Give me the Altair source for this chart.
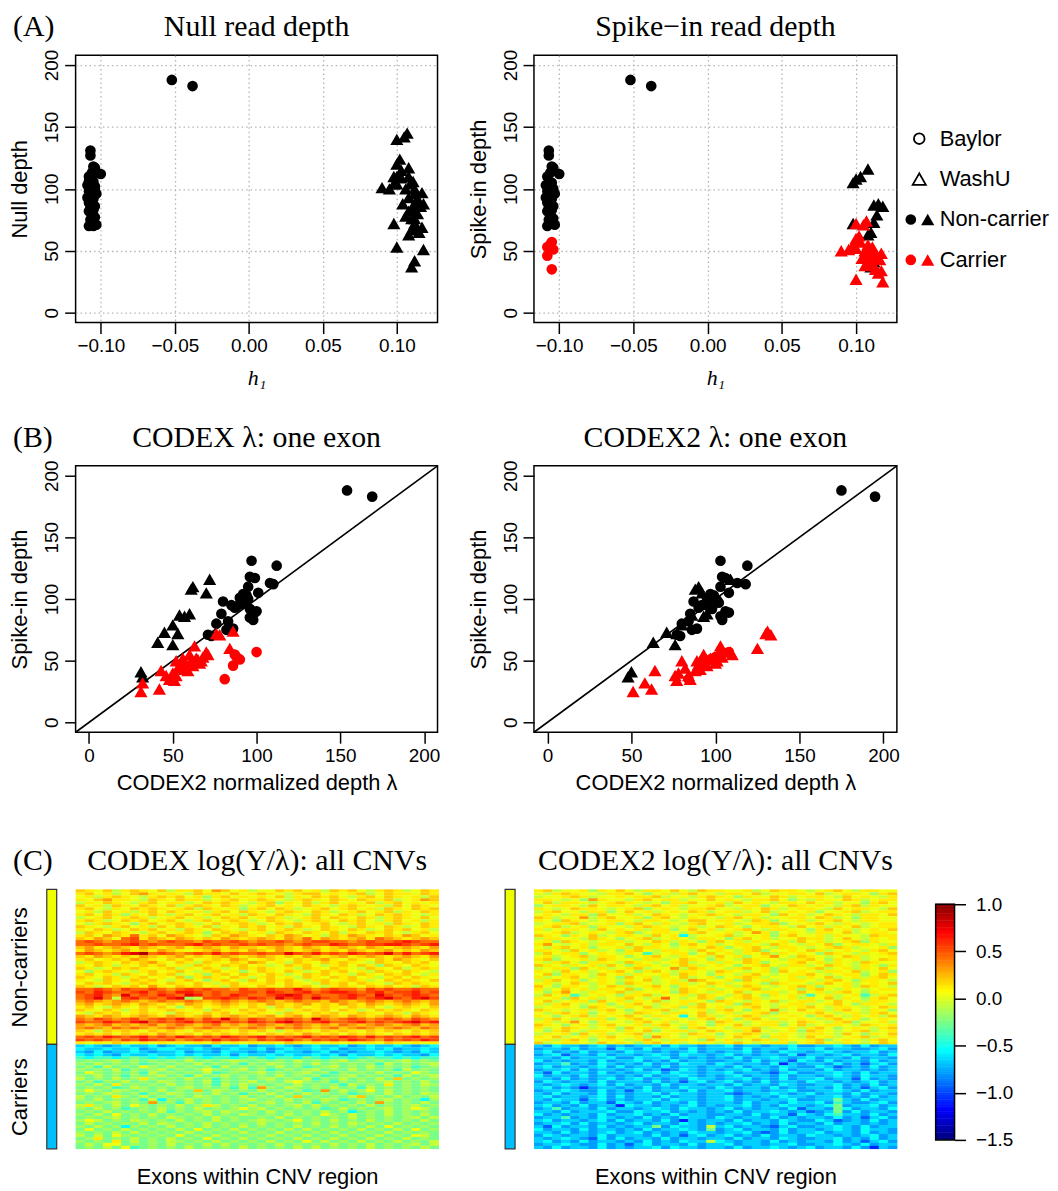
import altair as alt
import pandas as pd

SANS = "Liberation Sans"
SERIF = "Liberation Serif"

# ---------------- text ----------------
panel_labels = ["(A)", "(B)", "(C)"]
titles_A = ["Null read depth", "Spike\u2212in read depth"]
titles_B = ["CODEX \u03bb: one exon", "CODEX2 \u03bb: one exon"]
titles_C = ["CODEX log(Y/\u03bb): all CNVs", "CODEX2 log(Y/\u03bb): all CNVs"]
sites = ["Baylor", "WashU"]
statuses = ["Non-carrier", "Carrier"]

# ---------------- samples ----------------
# Baylor non-carriers (circles, black)
bn_h1 = [-0.107, -0.107, -0.100, -0.105, -0.104, -0.106, -0.108, -0.105, -0.107, -0.109,
         -0.106, -0.104, -0.108, -0.107, -0.103, -0.106, -0.109, -0.105, -0.107, -0.108,
         -0.106, -0.104, -0.107, -0.105, -0.108, -0.106, -0.104, -0.107, -0.103, -0.108,
         -0.106, -0.105, -0.052, -0.038]
bn_null = [131, 127, 112, 118, 117, 113, 110, 106, 104, 103, 101, 100, 98, 97, 96, 95, 93, 92, 90, 89,
           88, 86, 85, 83, 82, 80, 77, 75, 71, 70, 94, 99, 188, 183]
bn_spike = [131, 127, 112, 118, 117, 113, 110, 105, 104, 103, 101, 100, 98, 97, 96, 95, 93, 92, 90, 89,
            88, 86, 85, 83, 82, 80, 76, 75, 71, 70, 94, 99, 188, 183]
bn_codex = [97, 112, 110, 96, 99, 108, 95, 101, 92, 94, 90, 95, 80, 93, 91, 85, 87, 96, 100, 99,
            79, 97, 96, 98, 83, 76, 86, 82, 71, 73, 88, 91, 154, 169]
bn_codex2 = [103, 119, 118, 104, 106, 113, 103, 108, 97, 99, 95, 100, 87, 102, 94, 92, 90, 98, 106, 108,
             85, 103, 104, 104, 84, 80, 89, 86, 77, 79, 96, 101, 175, 195]

# Baylor carriers (circles, red)
bc_h1 = [-0.108, -0.105, -0.104, -0.108, -0.105, -0.106]
bc_null = [106, 114, 102, 92, 70, 110]
bc_spike = [53, 57, 51, 46, 35, 55]
bc_codex = [88, 100, 90, 86, 81, 87]
bc_codex2 = [100, 108, 97, 91, 84, 103]

# WashU non-carriers (triangles, black)
wn_h1 = [0.112, 0.110, 0.110, 0.112, 0.108, 0.114, 0.098, 0.112, 0.118, 0.115, 0.100, 0.103, 0.098, 0.108]
wn_null = [42, 37, 67, 72, 63, 80, 72, 88, 88, 87, 110, 109, 104, 117]
wn_spike = [41, 37, 65, 73, 63, 79, 72, 87, 86, 88, 108, 110, 105, 116]
wn_codex = [31, 32, 41, 45, 50, 50, 53, 54, 57, 60, 61, 62, 70, 72]
wn_codex2 = [50, 48, 63, 71, 76, 80, 77, 86, 93, 95, 88, 90, 92, 109]

# WashU carriers (triangles, red)
wc_h1 = [0.118, 0.100, 0.115, 0.112, 0.108, 0.113, 0.110, 0.117, 0.106, 0.104,
         0.112, 0.100, 0.116, 0.108, 0.110, 0.098, 0.112, 0.114, 0.102, 0.109,
         0.117, 0.106, 0.111, 0.103, 0.108, 0.100, 0.105, 0.100, 0.107, 0.090, 0.095]
wc_null = [51, 53, 65, 76, 82, 70, 76, 69, 78, 88, 96, 104, 86, 93, 84, 110, 100, 92, 124, 104,
           97, 100, 106, 115, 110, 140, 142, 120, 145, 101, 100]
wc_spike = [25, 27, 32, 38, 42, 35, 40, 34, 38, 44, 48, 52, 43, 47, 42, 55, 50, 46, 62, 52,
            48, 50, 53, 57, 55, 72, 71, 60, 74, 50, 51]
wc_codex = [31, 42, 32, 46, 43, 48, 50, 51, 52, 53, 55, 56, 57, 58, 59, 60, 61, 62, 63, 64,
            66, 67, 68, 70, 71, 76, 78, 84, 86, 52, 65]
wc_codex2 = [51, 62, 58, 76, 64, 85, 78, 77, 84, 82, 94, 92, 91, 90, 88, 93, 89, 95, 103, 97,
             100, 101, 104, 109, 110, 130, 133, 125, 131, 80, 100]

diag_ends = [-8, 208]

# ---------------- heatmap cells (codes read per cell) ----------------
code_chars = list("0123456789ABCDEFGHI")
code_values = [-1.3, -1.1, -0.95, -0.8, -0.68, -0.55, -0.4, -0.27, -0.17, -0.08,
               0.02, 0.11, 0.19, 0.3, 0.42, 0.52, 0.62, 0.75, 0.9]

codex_rows = [
    "CBAC9BCBAC" "9BBCADCAB9" "AACBCAB9CB" "CA9BCB9ACB",
    "BCAB9ACDBA" "BA9CBBACAB" "CBA9BCCABA" "BC9ACBBACB",
    "AB9BCBA9BC" "BCAB8BCABA" "BAC9BACBCA" "9BCACBAB9C",
    "BACDBBA9CB" "ACBB9ABCAB" "CBA9BCBACB" "ACBBC9ABDC",
    "9BACBA9BCA" "BB9ACBCBA9" "BC8BAC9BCA" "BAC9BCABAB",
    "CAB9CBACBA" "C9BCBACB9A" "BCABACBA9B" "CBAB9CACBA",
    "BCA9BACBCB" "ABC9CBAB8B" "CACB9ABCAB" "CAB9CBACBC",
    "AB9CAB9BCA" "CBAB9BCACB" "A9BCBACB9A" "BCABC9BACB",
    "BCACB8BACB" "9BCABCAB9C" "BACBA9CBAC" "B9ACBCBA9B",
    "9ABCABCB9A" "BCAB9ACBCA" "BCB9ABCACB" "ACB9BCBACA",
    "BCB9ACBCAB" "CA9BCABCB9" "ACBA9BCBAC" "BCA9BCAB9B",
    "A9BCBA8BCA" "BCB9ACABCB" "9ACBCABCA9" "BCAB9CBACB",
    "CBA9BCAB9C" "ACBAC9BACB" "CAB9CBACBA" "9CBACB9ACB",
    "BACB9ACBCA" "B9CBACBA9B" "CABCB9ACBA" "CB9ACBCAB9",
    "9CBACBA9BC" "ABCB8ACBCA" "B9CBACBAC9" "BACBCA9BCA",
    "BCADCBEBCA" "DCBA9CBDCB" "ACBDCAB9CB" "DCBACBDCAB",
    "CBDCAEFBDC" "BDCBCBDCBC" "DCBDCEBDCB" "CDBEDCBCDC",
    "EFEDEEFEDE" "FEEDFEEFED" "EEFEDEFFEE" "DEFEEFGFEE",
    "EEFEEFGEFE" "EEFGEFEEFE" "FEEDEFEEGF" "EEFFGGFEFG",
    "CDBCDCBDCB" "CDBCDCBDCC" "BCDCBDCBCD" "CBDCBCDCBD",
    "BDCBCDBCBD" "CBABCDBCBD" "CBDCBCDBCB" "DCBCDBCBDC",
    "EFEDEGHIEF" "EDEFEGEFEE" "FEEHFEGEFE" "GFEFHEGEFG",
    "CBDCBCBDCB" "CDBCBCDCBC" "DCBCBDCBCD" "BCDCBCDCBD",
    "BCABCBDCBA" "CBCABCBDCA" "BCBACBCDBA" "CBACBDCBAC",
    "9BCBACBCDB" "ACB9CBACBD" "CAB9CBACBC" "BA9CBACBCA",
    "BACB9BACBC" "AB9CBACBCA" "B9ACBCA9BC" "ACB8CBACBA",
    "CB9ACBCBAB" "C9BACB9ACB" "CBAB9CBACB" "A9CBAC9BCB",
    "A8BCBA9BCA" "BCA9BCAB8A" "CBACB9ACBC" "AB9CBACBA9",
    "BCAB9CBACB" "C9AB8BCACB" "ACB9ACBCAB" "9CBACBCA9B",
    "CBACB9BCAB" "AC8BCBACB9" "BCAB9CBACB" "CAB9BCACBA",
    "BA9CBACBCA" "9BCA8BCA9C" "ACBCA9BCAB" "CB9ACBCBAC",
    "ACBCA9BCBA" "CBACB9BCAB" "BCACBA9CBC" "ACBA9CBCBA",
    "CB9ACBCADB" "ACBCAB9CBA" "CBACBCA9BC" "BACBCAB9CB",
    "EEFEDFEEFE" "DEFEFEEDFE" "EFEEGEDEFE" "EDFEFEEFEE",
    "FEGFEEFGEF" "EGGFEFEEFF" "EGFEFGEFGG" "FEFGEFFGEF",
    "EFGEDHEFEG" "FEHGEFEGFE" "EFGHGEFEEF" "GFEHFEFGFE",
    "EFHE9FGEFE" "GH89FFGFEG" "FEHFGEHFEF" "GEFGHFEGHF",
    "DEDCDEDCDE" "DDEDCDEDCD" "EDCDEDDCED" "CDEDCDEDCD",
    "CDBCDCBDCB" "CBDCBCDCBC" "BDCBCDBCBD" "CBDCBCDCBD",
    "BCA9CBACBC" "A8BCABCBAC" "B9CBCABCBA" "CBCA9BCBAC",
    "CBACB9BCAB" "CBAB9CBACB" "CAB9BCBCAC" "B9ACBCBACB",
    "A9CBCABCBA" "9CBACBCABC" "BA9CBACBCA" "BCBACB9CBA",
    "DCBDCBCDCB" "DCBCDBCDCB" "CDBCDBCDCB" "DCBCDCBDCB",
    "EDFEDEFDEF" "EGEDFEHEDF" "EDEFEDHEDE" "FEDEFEDFED",
    "FEEGFEGHEF" "EFGEFGEFEG" "FEGHFEFGEE" "FGEFEFGHFG",
    "DCDECDCDEC" "DEDCDECDCD" "EDCDEDCDCE" "DCDEDCDECD",
    "DEDCEDEDCD" "EDCDEDDCDE" "DCEDEDCDEC" "DEDCDEDCED",
    "CB9CBCBACB" "CBACBCBACB" "CA9BCBACBC" "BACBCBACBC",
    "BCBCACBCBD" "CBCACBCBCB" "ACBCBDCBCA" "CBCBACBCBC",
    "EFEGFEFGEF" "EGFEFEGFEF" "GEFEFGEFEG" "FEGEFEFGEF",
    "FEFEDFEGFE" "FDEFEGEFED" "FEFGEDFEFE" "GFEDFEFEGF",
    "BABACBABAB" "ABABACABAB" "ABACBABABA" "BABACBABAB",
    # carriers
    "4543454453" "4544354453" "4454345445" "3454454345",
    "5445445345" "5445434544" "5345445453" "4454534454",
    "4353445434" "4534435443" "4354434534" "3445434354",
    "5454354454" "4545445354" "4545445453" "5445454435",
    "6566567656" "5676566567" "6566576566" "5676656566",
    "7878978787" "8797878987" "8787978789" "7878789787",
    "8797878678" "7879787868" "7987879787" "8786978789",
    "7869787A87" "9787869787" "8797867897" "8797878678",
    "8787968789" "7878A87897" "8678789787" "9787869787",
    "7A87878697" "8787967878" "9787897868" "7879787A87",
    "8797868789" "7869789787" "8797878678" "9787869789",
    "9787978B87" "8797868787" "8978796879" "78797C7878",
    "7868797879" "8787968789" "7879A87868" "7878978797",
    "8797B78787" "9787869797" "8787978786" "9787B78798",
    "7878679878" "7897878696" "D879878797" "8697878787",
    "8A87987879" "787C798787" "9787867D79" "78A7978787",
    "7879878687" "9878797868" "7978797878" "6787978798",
    "9787B87978" "7879878797" "8797C78787" "9C78797879",
    "8797878695" "8797878789" "7879787986" "7878978758",
    "78789787D7" "8697878787" "8978796878" "797D878797",
    "9B8797A878" "7978B97879" "7878979787" "8797878978",
    "8797867879" "78797878A8" "9787878679" "7878978A97",
    "7879787879" "6878979878" "7978787978" "5787978787",
    "8797A78797" "8787978798" "7879787A87" "9787978797",
    "7878978787" "9878797877" "8797878787" "9787878979",
    "8A97879878" "7978797878" "9878A78797" "8797878797",
    "7978787979" "8787978787" "9787879787" "9878797878",
    "8797858787" "9787978797" "8787978797" "8797A78787",
    "7A78797878" "797A787978" "7879797878" "7978797A78",
    "8787979787" "8797878797" "8797878797" "8787978787",
    "9797A87878" "7A78797878" "7978797879" "7879787A97",
    "78B7879787" "9787A78797" "8787978797" "8797879787",
    "8787B79787" "9878797878" "79787A7978" "7978797879",
    "797AA78787" "9787979787" "8797878797" "8797878979",
    "78797A6787" "8797878797" "8787979787" "8797878797",
]

codex2_rows = [
    "BC9AAB8BAC" "A9BBACA9CB" "BAAB9ACBBA" "9ABCA9BBAA",
    "A9BCBAA9BB" "CA8AB9BCAA" "9BBAC9AABB" "AC9ABBA8BC",
    "9AABCB9AAB" "ABBC9AA9BC" "BA8BAACB9A" "BBA9CABA9B",
    "BBA9A8DBAA" "9BCABB9AAC" "ABA9BBCA8A" "9BAACB9ABB",
    "AC9BBA9ABC" "BA9A8BBCAA" "B9CABA9BBA" "CAB9AA8BCA",
    "8ABBA9CABB" "A9BCAB9AAB" "C9ABB8AACB" "ABA9BC9BAA",
    "BA9ACBBA9A" "BC8ABA9BBC" "AA9BACB9AB" "BA9CABBA9C",
    "9BCAA9BB8A" "CAB9ABACB9" "ABB9AC9ABA" "B8AABC9ABB",
    "ABA9BB8CAA" "B9ACBA9ABC" "BA9BBA8CAB" "9ACBA9BBAC",
    "CB9AAD9BCA" "AB8BCA9BAA" "9BCAB9AABB" "ACB9A8BBAA",
    "BA8CBA9ABB" "A9BBA9ACCA" "BBA9CB8AAB" "9ABCA9BBAA",
    "9ABBC9AAB8" "BCA9BA9BCA" "AB9ABBC8AA" "BCA9BA9ABB",
    "ABC9AB8BAA" "9BCBA9AB9A" "CBA8ABBA9C" "AB9BAC9ABB",
    "B9ABBA9CAB" "AB9BB8ACAB" "9ABCA9BBAA" "8BCAB9ABAC",
    "AABC9ABA9B" "C8ABBA9BCA" "AB9ADB8ABA" "9BBAC9ABBA",
    "CBA8BAC9AB" "BA9CAB59AA" "BC9AAB8BCA" "AB9BAA9CBB",
    "9BBAA9CBA8" "ABC9ABA9BB" "A8BCAB9AAC" "BB9ACA9BAB",
    "AB8CBA9ABB" "9AACB9BA8B" "CAB9BAAB9C" "AB9ABC8BAA",
    "BDA9AB9BBA" "CA9BA8BCAB" "9ABBA9CBA9" "BAC8ABBA9B",
    "A9BCAB8AAB" "9CBBA9ABAC" "B8ABCA9BBA" "9ABCB9AAB8",
    "BBA9CAB9A8" "BCA9BBA9CA" "BA9BC8AABA" "CB9ABA9BCA",
    "9CABB8ABA9" "BA69ABB8AC" "AB9BAC9BAB" "A8CBA9BABC",
    "AB9ABC9BBA" "8ABCA9BAB9" "CAB8ABDA9C" "BA9ACB9AAB",
    "BC8AAB9CBA" "A9BB9ACBA8" "BA9CBAA9BB" "CA8BAB9ACB",
    "A9BCA8BBA9" "CBA9ABC9AB" "9BACB8AABC" "AB9BA9CBAA",
    "CBA9BAB9CA" "8BBA9ACB9A" "BA8ABCA9BB" "9ACBA9BA8B",
    "9ABB8CAB9A" "BC9AAD9CBA" "A9BCAB8BAA" "BC9AB9BACA",
    "BA9CAB9ABC" "A8BCA9BBA9" "CBA9AB8CAB" "A9BBAC9AB8",
    "AC8BBA9CAB" "9BAAB9CBA8" "BA9BCA9ABB" "CA9ABB8ACB",
    "B9ABCA9BA8" "CAB9BAC9AB" "8ABCB9AAB9" "BAC9AB9BCA",
    "9BCAB8ABA9" "BAC9AB9DCA" "AB8CAB9ABB" "A9BCA8BBA9",
    "AB9ACB9BA8" "CBA9ABB9AC" "B9ABA8CBAA" "9BCAB9ABAC",
    "CA8BBA9ACB" "9ABCA8BAB9" "AB9CBA9ABC" "B8AAB9CBA9",
    "B9ACAB9BBA" "C8ABA9CBAB" "9ABBC9AAB8" "BCA9BA9ABB",
    "A8BDA9BABC" "9BAAB8CBA9" "BAC9ABB9AC" "AB9BCA8BAA",
    "9CAB69ABA8" "BBC9AAB9CB" "A9BCA8BAB9" "6AB9AB69BC",
    "BAB8CAB9AB" "CA9BEA9ACB" "8ABCB9AAB9" "BAC9BA8BCA",
    "AC9ABB8CAB" "9BAC9ABBA8" "CBA9BAC9AB" "B9ACAB9BBA",
    "B9BCA9AB8A" "BCA9BAB9CA" "AB8CBA9ABB" "9ABCA8BBA9",
    "9ABBA8CBA9" "BAC9AB8BCA" "B9ABCA9BAB" "CA9BBA9ACB",
    "CBA9AB9BCA" "8ABBC9AAB9" "BCA8BAD9AC" "AB9BCA9BA8",
    "A9BCAB8ABA" "9CBA9BBAC9" "AB9ABC8BAA" "BCA9AB9BCA",
    "BA8ABC9BAB" "CA9BBA5ACB" "9ABCB9AABA" "8BCA9BAB9C",
    "9BCA9ABB8A" "BCA9ABA9BC" "AB8BCA9BAB" "A9BCAB8ABA",
    "AB9BDA8BAA" "9BCAB9ABA8" "CBA9ABB9AC" "BA9BC8AAB9",
    "CBA8AB9BCA" "AB9BCA9BA8" "BAC9ABB8AC" "9ABBA9CBAB",
    "B9ACBA9AB8" "CAB9BA8BCA" "A9BBC9AAB9" "BCA8ABA9BC",
    "A8BCA9BBA9" "BAC8ABB9AC" "BA9BDA9AB8" "CBA9ABC9AB",
    "9BAB8CAB9A" "BC9ABA9CBA" "8ABCB9ABA9" "BBA9CA8BAC",
    "BAC9AB9BCA" "AB8DBA9ABB" "9ACBA8BBA9" "CAB9ABC9AB",
    "AB9BCA8ABA" "9BCA9BBA8C" "AB9ACB9BAA" "BC8ABA9BCA",
    "C9ABBA9CAB" "A8BCAB9ABA" "9BCA9ABB8A" "BCA9BA9ACB",
    # carriers
    "4354434534" "3445354434" "4534434453" "3445435344",
    "3443534425" "4353443534" "4435344354" "4534433453",
    "4534353443" "5443434534" "3445343544" "3454344534",
    "3452443534" "4345435443" "4534344352" "4434534435",
    "4435344453" "3544534343" "4353445434" "5344353443",
    "5343443534" "4534353443" "3443534425" "4353443534",
    "3446343543" "4353435443" "5434435143" "4435342453",
    "4534434535" "3443534434" "4353443543" "3542343534",
    "3445353443" "4534235434" "3445343534" "4353443434",
    "4253443534" "3445354434" "4534432453" "3445435344",
    "5344353443" "4353445434" "3453443534" "4345435443",
    "4435343453" "4534343544" "3445343534" "4534425343",
    "3543443534" "4435342453" "4534353443" "5443434534",
    "4345434535" "3443534434" "4353443543" "3445343534",
    "4534313443" "4353435443" "5434435343" "4435342453",
    "3445433534" "2453443534" "4534434453" "3445435344",
    "4353443534" "3445354434" "4323445434" "5344353443",
    "4534434535" "3443534434" "4534343544" "3445343534",
    "4354424534" "3445354434" "4534434453" "3447435344",
    "3443534425" "4353443534" "4435344354" "4536433453",
    "4534353441" "5443434534" "3445343544" "3457344534",
    "3463443534" "4345435443" "4534344352" "4437534435",
    "4435344453" "3544534343" "4353445434" "2347353443",
    "5343443534" "4534353443" "3443534425" "4356443534",
    "3446343543" "4353435443" "5434435343" "4435342453",
    "4534434535" "3443531434" "4353443543" "3542343534",
    "3445353443" "4534435434" "3445343534" "4353443434",
    "4253443534" "3447354439" "4534432453" "3445435344",
    "5344353443" "4353445437" "3453443534" "4345435443",
    "4435343453" "4534343544" "3445323534" "4534435343",
    "3543443534" "4435342453" "4534353443" "5443434534",
    "4345432535" "3443534434" "4353443543" "3445343534",
    "4534353443" "4353435449" "5434435343" "4435342453",
    "3445433534" "2453443534" "4534434453" "3445435344",
    "4353443534" "3445354434" "4353445434" "5344353143",
]

side_names = ["Non-carriers", "Carriers"]
side_starts = [0, 52]
side_ends = [52, 87]

# colour scale stops (jet palette on [-1.5, 1.0])
jet_stops = [-1.5, -1.1875, -0.875, -0.5625, -0.25, 0.0625, 0.375, 0.6875, 1.0]
jet_colors = ["#00007F", "#0000FF", "#007FFF", "#00FFFF", "#7FFF7F",
              "#FFFF00", "#FF7F00", "#FF0000", "#7F0000"]
cb_ticks = [1.0, 0.5, 0.0, -0.5, -1.0, -1.5]

# legend
leg_labels = ["Baylor", "WashU", "Non-carrier", "Carrier"]
leg_sym_label = ["Baylor", "WashU", "Non-carrier", "Non-carrier", "Carrier", "Carrier"]
leg_sym_site = ["Baylor", "WashU", "Baylor", "WashU", "Baylor", "WashU"]
leg_sym_slot = ["mid", "mid", "left", "right", "left", "right"]
leg_sym_kind = ["open", "open", "Non-carrier", "Non-carrier", "Carrier", "Carrier"]
leg_slots = ["left", "mid", "right", "gap", "text"]

# ---------------- build tables ----------------
def grp(site, status, h1, null, spike, codex, codex2):
    return pd.DataFrame({"site": site, "status": status, "h1": h1, "null": null,
                         "spike": spike, "codex": codex, "codex2": codex2})

df = pd.concat([
    grp("Baylor", "Non-carrier", bn_h1, bn_null, bn_spike, bn_codex, bn_codex2),
    grp("Baylor", "Carrier", bc_h1, bc_null, bc_spike, bc_codex, bc_codex2),
    grp("WashU", "Non-carrier", wn_h1, wn_null, wn_spike, wn_codex, wn_codex2),
    grp("WashU", "Carrier", wc_h1, wc_null, wc_spike, wc_codex, wc_codex2),
], ignore_index=True)

code_map = dict(zip(code_chars, code_values))


def heat_df(rows):
    recs = []
    for r, s in enumerate(rows):
        for c, ch in enumerate(s):
            recs.append({"row": r, "col": c, "val": code_map[ch]})
    return pd.DataFrame(recs)


hdf1 = heat_df(codex_rows)
hdf2 = heat_df(codex2_rows)
ncols = len(codex_rows[0])
nrows = len(codex_rows)

side_df = pd.DataFrame({"name": side_names, "start": side_starts, "end": side_ends})

# ---------------- common styling ----------------
shape_scale = alt.Scale(domain=sites, range=["circle", "triangle-up"])
size_scale = alt.Scale(domain=sites, range=[115, 175])
color_scale = alt.Scale(domain=statuses, range=["#000000", "#FF0000"])
heat_scale = alt.Scale(type="linear", domain=jet_stops, range=jet_colors,
                       interpolate="rgb", clamp=True)
NOVIEW = alt.ViewBackground(stroke="transparent")

ax_common = dict(domain=False, tickSize=11, tickWidth=1.5, tickColor="black",
                 labelFont=SANS, labelFontSize=19, labelColor="black",
                 titleFont=SANS, titleFontSize=22, titleFontWeight="normal",
                 titleColor="black")

TITLE_DY = -19


def title_layer(text, xpos, align="center"):
    return alt.Chart(pd.DataFrame({"t": [text]})).mark_text(
        align=align, baseline="alphabetic", font=SERIF, fontSize=30, color="black"
    ).encode(text="t:N", x=alt.value(xpos), y=alt.value(TITLE_DY))


def y_axis(title, grid):
    return alt.Axis(title=title, values=[0, 50, 100, 150, 200], format="d",
                    grid=grid, gridDash=[1.5, 3], gridColor="#B4B4B4", gridWidth=1.3,
                    labelAngle=270, labelAlign="center", labelBaseline="bottom",
                    labelPadding=3, titlePadding=11, **ax_common)


def scatter(xfield, xdomain, xticks, xfmt, xtitle, ytitle, yfield, title, width,
            height, grid, xtitle_font, xtitle_style, xtitle_pad, label=None, diag=False,
            by_status=True):
    extra = {"titleFontStyle": xtitle_style} if xtitle_style else {}
    xaxis = alt.Axis(title=xtitle, values=xticks, format=xfmt, grid=grid,
                     gridDash=[1.5, 3], gridColor="#B4B4B4", gridWidth=1.3,
                     labelPadding=3, titlePadding=xtitle_pad, labelFlush=False,
                     **extra, **{**ax_common, "titleFont": xtitle_font})
    xs = alt.Scale(domain=xdomain, nice=False, zero=False)
    ys = alt.Scale(domain=[-8, 208], nice=False, zero=False)
    layers = []
    if diag:
        ddf = pd.DataFrame({xfield: diag_ends, yfield: diag_ends})
        layers.append(alt.Chart(ddf).mark_line(color="black", strokeWidth=1.6).encode(
            x=alt.X(f"{xfield}:Q", scale=xs, axis=xaxis),
            y=alt.Y(f"{yfield}:Q", scale=ys, axis=y_axis(ytitle, grid)),
        ))
    if by_status:
        col = alt.Color("status:N", scale=color_scale, legend=None)
    else:
        col = alt.value("#000000")
    layers.append(alt.Chart(df).mark_point(filled=True, opacity=1).encode(
        x=alt.X(f"{xfield}:Q", scale=xs, axis=xaxis),
        y=alt.Y(f"{yfield}:Q", scale=ys, axis=y_axis(ytitle, grid)),
        shape=alt.Shape("site:N", scale=shape_scale, legend=None),
        size=alt.Size("site:N", scale=size_scale, legend=None),
        color=col,
    ))
    layers.append(title_layer(title, width / 2))
    if label is not None:
        layers.append(title_layer(label, -63, align="left"))
    return alt.layer(*layers).properties(width=width, height=height)


h1_dom = [-0.117, 0.1275]
h1_ticks = [-0.10, -0.05, 0.0, 0.05, 0.10]
lam_dom = [-8, 208]
lam_ticks = [0, 50, 100, 150, 200]
h1_title = "h\u2081"
lam_title = "CODEX2 normalized depth \u03bb"

A1 = scatter("h1", h1_dom, h1_ticks, ".2f", h1_title, "Null depth", "null", titles_A[0],
             364, 269, True, SERIF, "italic", 12, label=panel_labels[0], by_status=False)
A2 = scatter("h1", h1_dom, h1_ticks, ".2f", h1_title, "Spike-in depth", "spike", titles_A[1],
             365, 269, True, SERIF, "italic", 12)
B1 = scatter("codex", lam_dom, lam_ticks, "d", lam_title, "Spike-in depth", "spike", titles_B[0],
             364, 268, False, SANS, None, 8, label=panel_labels[1], diag=True)
B2 = scatter("codex2", lam_dom, lam_ticks, "d", lam_title, "Spike-in depth", "spike", titles_B[1],
             365, 268, False, SANS, None, 8, diag=True)

# legend chart (row A)
leg_sym_df = pd.DataFrame({"label": leg_sym_label, "site": leg_sym_site,
                           "slot": leg_sym_slot, "kind": leg_sym_kind})
leg_txt_df = pd.DataFrame({"label": leg_labels, "slot": ["text"] * len(leg_labels)})
lx = alt.X("slot:N", scale=alt.Scale(type="point", domain=leg_slots, padding=0), axis=None)
ly = alt.Y("label:N", scale=alt.Scale(type="point", domain=leg_labels, range=[84, 206],
                                      padding=0), axis=None)
leg_size = alt.Scale(domain=sites, range=[90, 140])
leg_open = alt.Chart(leg_sym_df).transform_filter("datum.kind == 'open'").mark_point(
    filled=False, color="black", strokeWidth=1.8, opacity=1).encode(
    x=lx, y=ly, shape=alt.Shape("site:N", scale=shape_scale, legend=None),
    size=alt.Size("site:N", scale=leg_size, legend=None))
leg_fill = alt.Chart(leg_sym_df).transform_filter("datum.kind != 'open'").mark_point(
    filled=True, opacity=1).encode(
    x=lx, y=ly, shape=alt.Shape("site:N", scale=shape_scale, legend=None),
    size=alt.Size("site:N", scale=leg_size, legend=None),
    color=alt.Color("kind:N", scale=color_scale, legend=None))
leg_text = alt.Chart(leg_txt_df).mark_text(align="left", baseline="middle", font=SANS,
                                           fontSize=22, color="black", dx=-5).encode(
    x=lx, y=ly, text="label:N")
legend_chart = alt.layer(leg_open, leg_fill, leg_text).properties(
    width=34, height=269, view=NOVIEW)


def spacer(w):
    return alt.Chart(pd.DataFrame({"z": []})).mark_text().properties(
        width=w, height=10, view=NOVIEW)


HEAT_W = 365


# heatmaps
def heatmap(hdf, title):
    cells = alt.Chart(hdf).transform_calculate(
        c2="datum.col + 1.05", r2="datum.row + 1.08"
    ).mark_rect().encode(
        x=alt.X("col:Q", scale=alt.Scale(domain=[0, ncols], nice=False, zero=False),
                axis=alt.Axis(title="Exons within CNV region", labels=False, ticks=False,
                              domain=False, grid=False, titlePadding=18,
                              titleFont=SANS, titleFontSize=22, titleFontWeight="normal",
                              titleColor="black")),
        x2="c2:Q",
        y=alt.Y("row:Q", scale=alt.Scale(domain=[0, nrows], reverse=True, nice=False,
                                         zero=False), axis=None),
        y2="r2:Q",
        color=alt.Color("val:Q", scale=heat_scale, legend=None),
    )
    return alt.layer(cells, title_layer(title, HEAT_W / 2)).properties(
        width=HEAT_W, height=261, view=NOVIEW)


mid0 = (side_starts[0] + side_ends[0]) / 2
mid1 = (side_starts[1] + side_ends[1]) / 2
side_y_scale = alt.Scale(domain=[0, nrows], reverse=True, nice=False, zero=False)
side_color = alt.Scale(domain=side_names, range=["#EEFF00", "#00BFFF"])


def sidebar(with_labels, label=None):
    if with_labels:
        yax = alt.Axis(values=[mid0, mid1],
                       labelExpr=f"datum.value < {side_ends[0]} ? '{side_names[0]}' : '{side_names[1]}'",
                       labelAngle=270, labelAlign="center", labelBaseline="bottom",
                       labelPadding=15, labelFont=SANS, labelFontSize=22, labelColor="black",
                       ticks=False, domain=False, grid=False, title=None, labelFlush=False,
                       labelOverlap=False)
    else:
        yax = None
    rect = alt.Chart(side_df).mark_rect(stroke="#333333", strokeWidth=1.2).encode(
        y=alt.Y("start:Q", scale=side_y_scale, axis=yax),
        y2="end:Q",
        color=alt.Color("name:N", scale=side_color, legend=None),
    )
    layers = [rect]
    if label is not None:
        layers.append(title_layer(label, -34, align="left"))
    return alt.layer(*layers).properties(width=10, height=261, view=NOVIEW)


cb_axis = alt.Axis(orient="right", values=cb_ticks, format=".1f", title=None, domain=False,
                   grid=False, tickSize=11, tickWidth=1.5, tickColor="black",
                   labelFont=SANS, labelFontSize=19, labelColor="black", labelPadding=10)
cb_scale = alt.Scale(domain=[-1.595, 1.158], nice=False, zero=False)
cb_grad = alt.Chart(alt.sequence(-1.5, 1.0, 0.025, as_="v")).transform_calculate(
    v2="datum.v + 0.03").mark_rect().encode(
    y=alt.Y("v:Q", scale=cb_scale, axis=cb_axis),
    y2="v2:Q",
    color=alt.Color("v:Q", scale=heat_scale, legend=None),
)
cb_box = alt.Chart(pd.DataFrame({"v": [jet_stops[0]], "v2": [jet_stops[-1]]})).mark_rect(
    filled=False, stroke="black", strokeWidth=1.5).encode(
    y=alt.Y("v:Q", scale=cb_scale, axis=cb_axis), y2="v2:Q")
cbar = alt.layer(cb_grad, cb_box).properties(width=19, height=261, view=NOVIEW)

rowA = alt.hconcat(spacer(15), A1, spacer(69), A2, legend_chart, spacing=14, bounds="flush")
rowB = alt.hconcat(spacer(15), B1, spacer(69), B2, spacing=14, bounds="flush")
rowC = alt.hconcat(sidebar(True, panel_labels[2]), heatmap(hdf1, titles_C[0]), spacer(29),
                   sidebar(False), heatmap(hdf2, titles_C[1]), spacer(1), cbar,
                   spacing=19, bounds="flush")

chart = alt.vconcat(alt.vconcat(rowA, rowB, spacing=33), rowC, spacing=51).properties(
    padding={"left": 0, "top": 0, "right": 0, "bottom": 0}, background="white"
).configure_view(stroke="black", strokeWidth=1.5)

chart.save("out.html", embed_options={"renderer": "svg", "actions": False})
